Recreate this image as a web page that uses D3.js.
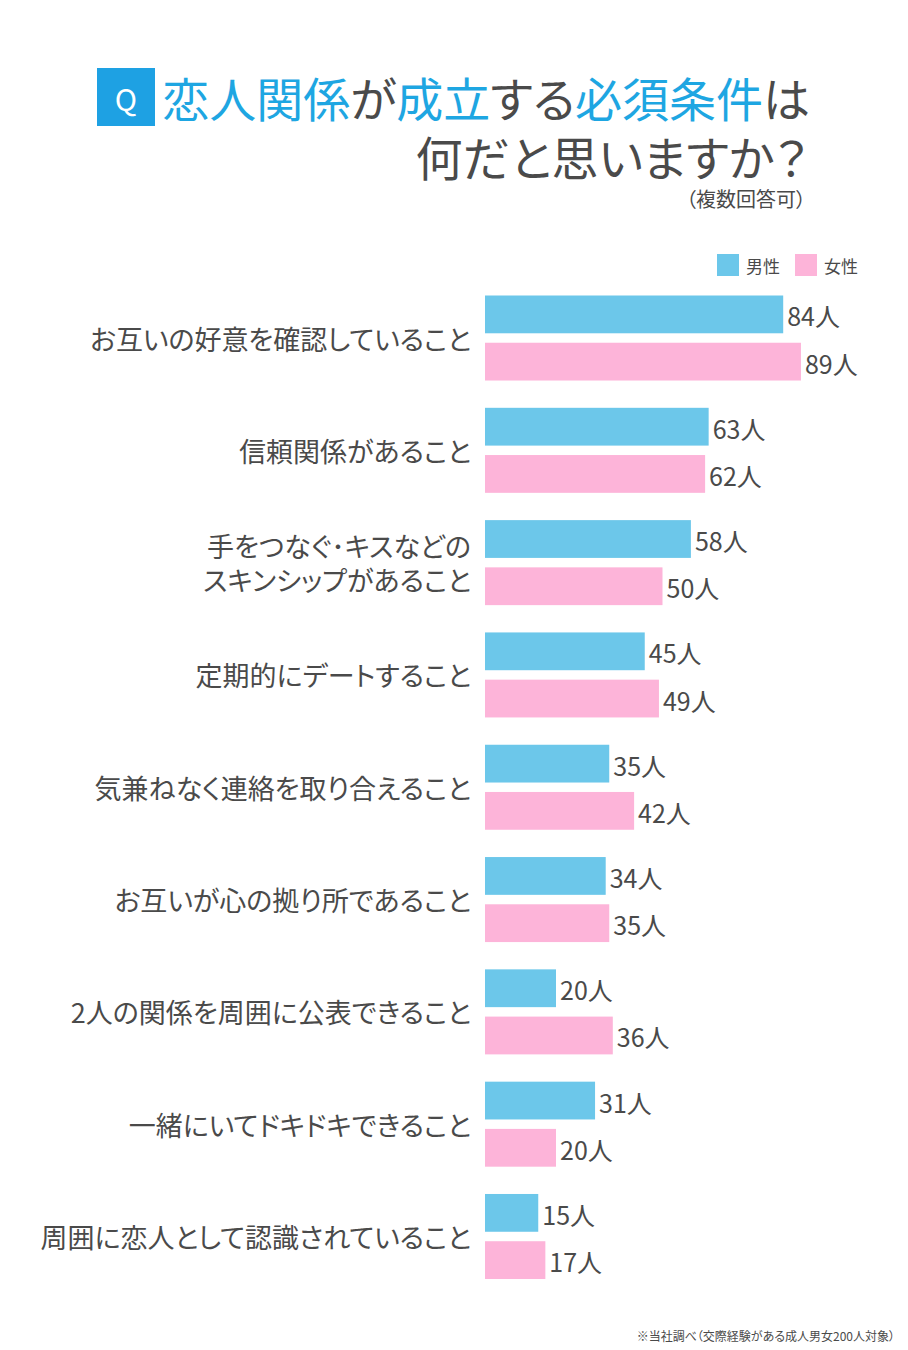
<!DOCTYPE html>
<html>
<head>
<meta charset="utf-8">
<script src="https://cdn.jsdelivr.net/npm/d3@7"></script>
<style>
  body { margin: 0; background: #fff; }
  text { font-family: "Noto Sans CJK JP", "Noto Sans", sans-serif; }
  .palt { font-feature-settings: "palt" 1; }
</style>
</head>
<body>
<div id="canvas"></div>
<script>
"use strict"

/* Canvas size */
let svgWidth = 908;
let svgHeight = 1350;

/* Data */
let categories = [
    ["お互いの好意を確認していること"],
    ["信頼関係があること"],
    ["手をつなぐ･キスなどの", "スキンシップがあること"],
    ["定期的にデートすること"],
    ["気兼ねなく連絡を取り合えること"],
    ["お互いが心の拠り所であること"],
    ["2人の関係を周囲に公表できること"],
    ["一緒にいてドキドキできること"],
    ["周囲に恋人として認識されていること"]
];
let seriesNames = ["男性", "女性"];
let maleValues = [84, 63, 58, 45, 35, 34, 20, 31, 15];
let femaleValues = [89, 62, 50, 49, 42, 35, 36, 20, 17];

let colors = ["#6cc7ea", "#fdb4d9"];
let textColor = "#4a4a4a";
let titleBlue = "#1ea6e2";

let svg = d3.select("#canvas")
    .append("svg")
    .attr("width", svgWidth)
    .attr("height", svgHeight);

/* ---- Title ---- */
svg.append("rect")
    .attr("x", 97)
    .attr("y", 68)
    .attr("width", 58)
    .attr("height", 58)
    .attr("fill", "#1ea1e3");

svg.append("text")
    .attr("x", 126)
    .attr("y", 98)
    .attr("text-anchor", "middle")
    .attr("dominant-baseline", "central")
    .attr("fill", "white")
    .attr("font-size", 30)
    .text("Q");

let titleParts = [
    ["恋人関係", titleBlue], ["が", textColor], ["成立", titleBlue],
    ["する", textColor], ["必須条件", titleBlue], ["は", textColor]
];
let title1 = svg.append("text")
    .attr("class", "palt")
    .attr("x", 810)
    .attr("y", 96)
    .attr("text-anchor", "end")
    .attr("dominant-baseline", "central")
    .attr("font-size", 47);
titleParts.forEach(function (p) {
    title1.append("tspan").attr("fill", p[1]).text(p[0]);
});

svg.append("text")
    .attr("class", "palt")
    .attr("x", 808)
    .attr("y", 155)
    .attr("text-anchor", "end")
    .attr("dominant-baseline", "central")
    .attr("font-size", 47)
    .attr("fill", textColor)
    .text("何だと思いますか？");

svg.append("text")
    .attr("class", "palt")
    .attr("x", 806)
    .attr("y", 198)
    .attr("text-anchor", "end")
    .attr("dominant-baseline", "central")
    .attr("font-size", 20)
    .attr("fill", textColor)
    .text("（複数回答可）");

/* ---- Legend ---- */
let legendX = [717, 795];
for (let i = 0; i < 2; i++) {
    svg.append("rect")
        .attr("x", legendX[i])
        .attr("y", 254)
        .attr("width", 22)
        .attr("height", 22)
        .attr("fill", colors[i]);
    svg.append("text")
        .attr("x", legendX[i] + 29)
        .attr("y", 265)
        .attr("dominant-baseline", "central")
        .attr("font-size", 17)
        .attr("fill", textColor)
        .text(seriesNames[i]);
}

/* ---- Scales ---- */
let xScale = d3.scaleLinear()
    .domain([0, 100])
    .range([485, 840]);

let yScale = d3.scaleBand()
    .domain(d3.range(categories.length))
    .range([295.5, 1279])
    .paddingInner(0.243)
    .paddingOuter(0);

let subScale = d3.scaleBand()
    .domain([0, 1])
    .range([0, yScale.bandwidth()])
    .paddingInner(0.2);

/* ---- Bars ---- */
let rows = [];
for (let i = 0; i < categories.length; i++) {
    rows.push({ cat: i, s: 0, value: maleValues[i] });
    rows.push({ cat: i, s: 1, value: femaleValues[i] });
}

svg.selectAll("rect.bar")
    .data(rows)
    .join("rect")
    .attr("class", "bar")
    .attr("x", xScale(0))
    .attr("y", function (d) { return yScale(d.cat) + subScale(d.s); })
    .attr("width", function (d) { return xScale(d.value) - xScale(0); })
    .attr("height", subScale.bandwidth())
    .attr("fill", function (d) { return colors[d.s]; });

svg.selectAll("text.value")
    .data(rows)
    .join("text")
    .attr("class", "value")
    .attr("x", function (d) { return xScale(d.value) + 4; })
    .attr("y", function (d) { return yScale(d.cat) + subScale(d.s) + subScale.bandwidth() / 2 + 1; })
    .attr("dominant-baseline", "central")
    .attr("font-size", 25)
    .attr("fill", textColor)
    .text(function (d) { return d.value + "人"; });

/* ---- Category labels ---- */
categories.forEach(function (lines, i) {
    let cy = yScale(i) + yScale.bandwidth() / 2;
    let lineH = 34;
    let t = svg.append("text")
        .attr("class", "palt")
        .attr("x", 471)
        .attr("text-anchor", "end")
        .attr("font-size", 27)
        .attr("fill", textColor);
    lines.forEach(function (line, j) {
        t.append("tspan")
            .attr("x", 471)
            .attr("y", cy + (j - (lines.length - 1) / 2) * lineH)
            .attr("dominant-baseline", "central")
            .text(line);
    });
});

/* ---- Footnote ---- */
svg.append("text")
    .attr("class", "palt")
    .attr("x", 895)
    .attr("y", 1335)
    .attr("text-anchor", "end")
    .attr("dominant-baseline", "central")
    .attr("font-size", 12)
    .attr("fill", textColor)
    .text("※当社調べ（交際経験がある成人男女200人対象）");
</script>
</body>
</html>
